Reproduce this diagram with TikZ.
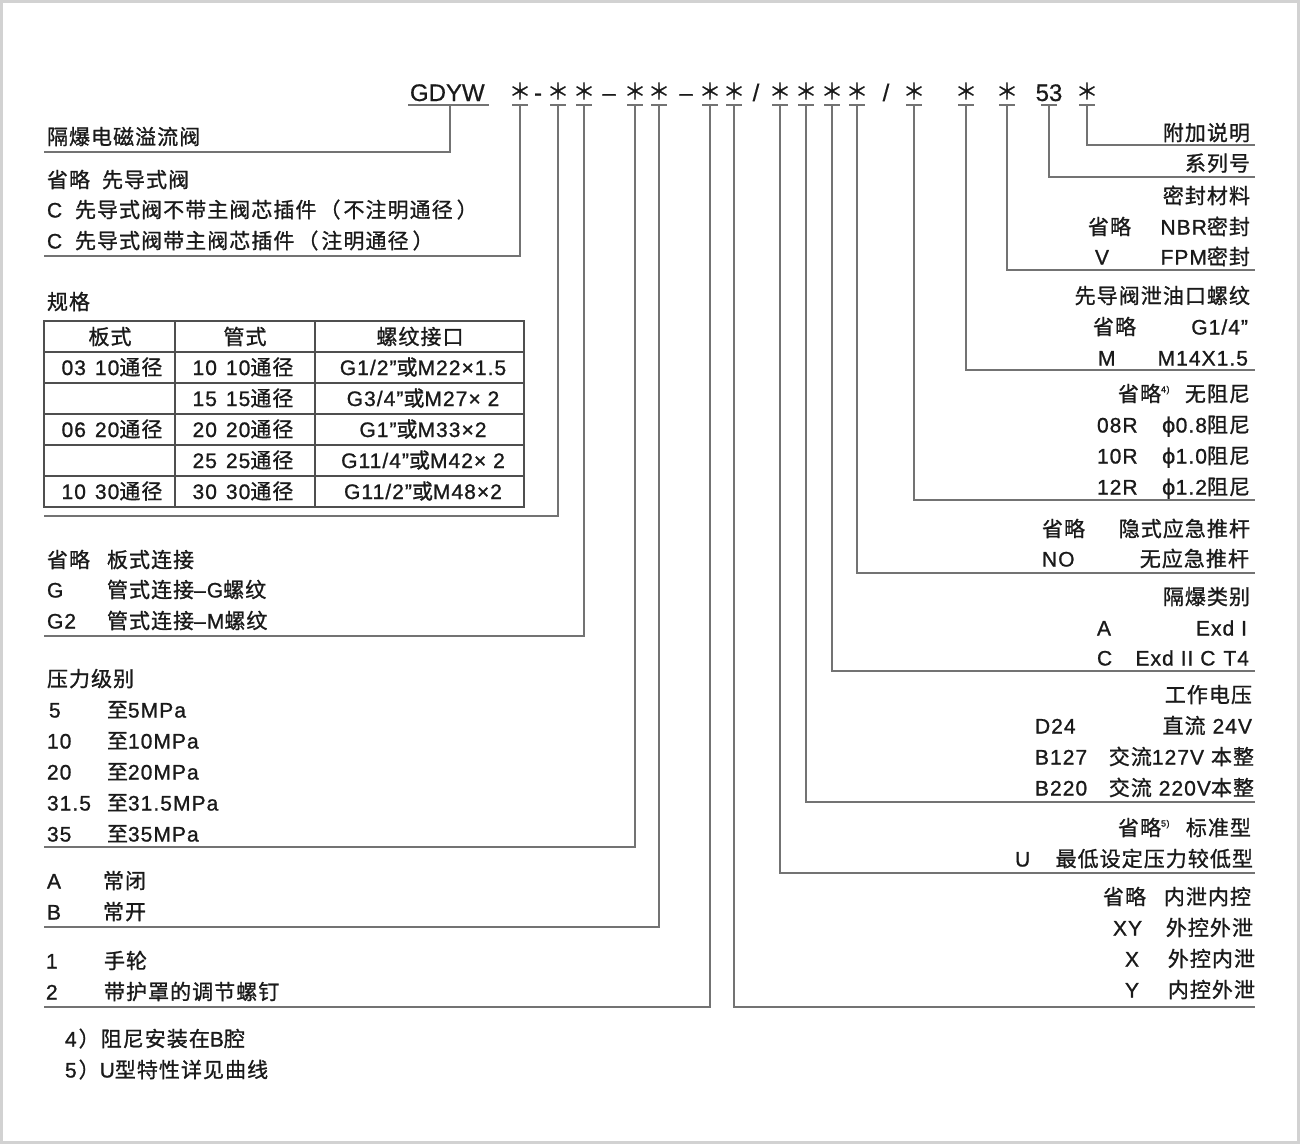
\documentclass[tikz,border=0pt]{standalone}
\usepackage{fontspec}
\setmainfont{Noto Sans CJK SC}[LetterSpace=5.0,FakeBold=1.0]
\newfontfamily\latf{Liberation Sans}[LetterSpace=5.0,FakeBold=1.0]
\newfontfamily\hdrf{Liberation Sans}[FakeBold=0.6]
\newfontfamily\phif{DejaVu Sans}[FakeBold=0.6]
\newcommand\en[1]{{\latf #1}}
\newcommand\phis{{\phif ϕ}}
\newcommand\supnote[1]{\raisebox{9pt}{\fontsize{9}{9}\selectfont\latf #1}}
\definecolor{txt}{HTML}{1A1A1A}
\definecolor{lncol}{HTML}{737373}
\definecolor{tblcol}{HTML}{4F4F4F}
\definecolor{framecol}{HTML}{D2D2D2}
\begin{document}
\begin{tikzpicture}[x=1pt,y=-1pt,
  every node/.style={inner sep=0pt, outer sep=0pt, text=txt, font=\fontsize{21}{24}\selectfont},
  lt/.style={anchor=base west},
  rt/.style={anchor=base east},
  ctr/.style={anchor=base},
  code/.style={anchor=base west, font=\fontsize{21}{24}\selectfont\latf},
  rcode/.style={anchor=base east, font=\fontsize{21}{24}\selectfont\latf},
  hdr/.style={anchor=base, font=\fontsize{24}{28}\selectfont\hdrf},
  starmark/.style={anchor=center, font=\fontsize{22}{24}\selectfont},
  ln/.style={draw=lncol, line width=1.1pt},
  tbl/.style={draw=tblcol, line width=1.1pt},
]
\useasboundingbox (0,0) rectangle (1300,1144);
\fill[white] (0,0) rectangle (1300,1144);
\draw[draw=framecol, line width=3pt] (1.5,1.5) rectangle (1298.5,1142.5);

% ---------- header ----------
\node[hdr, anchor=base west] (gdyw) at (410,101) {GDYW};
\foreach \n/\x in {1/520,2/558,3/584,4/635,5/659,6/710,7/734,8/780,9/806,10/832,11/857,12/914,13/966,14/1007,16/1087}{
  \node[starmark] (s\n) at (\x,91) {＊};
}
\node[hdr] (s15) at (1049,101) {53};
\node[hdr] (d1) at (538,101) {-};
\node[hdr] (d2) at (609,101) {–};
\node[hdr] (d3) at (686,101) {–};
\node[hdr] (sl1) at (756,101) {/};
\node[hdr] (sl2) at (886,101) {/};

% underlines
\draw[ln] (408,105) -- (489,105);
\foreach \x in {520,558,584,635,659,710,734,780,806,832,857,914,966,1007,1049,1087}{
  \draw[ln] (\x-8,105) -- (\x+8,105);
}

% connectors
\foreach \n/\x/\y/\e in {0/450/152/44,1/520/256/44,2/558/516/44,3/584/636/44,4/635/847/44,5/659/927/44,6/710/1007/44,
  7/734/1007/1255,8/780/873/1255,9/806/802/1255,10/832/671/1255,11/857/573/1255,12/914/500/1255,13/966/370/1255,14/1007/270/1255,15/1049/177/1255,16/1087/145/1255}{
  \coordinate (u\n) at (\x,105);
  \coordinate (k\n) at (\x,\y);
  \coordinate (t\n) at (\e,\y);
  \draw[ln] (u\n) -- (k\n) -- (t\n);
}

% ---------- left column ----------
\node[lt] (a0) at (47,144.5) {隔爆电磁溢流阀};
\node[lt] (a1) at (47,187.5) {省略};
\node[lt] (a1b) at (102,187.5) {先导式阀};
\node[code] (a2) at (47,217.5) {C};
\node[lt] (a2b) at (75,217.5) {先导式阀不带主阀芯插件\hspace{3pt}（\hspace{3pt}不注明通径\hspace{4pt}）};
\node[code] (a3) at (47,248.5) {C};
\node[lt] (a3b) at (75,248.5) {先导式阀带主阀芯插件\hspace{3pt}（\hspace{3pt}注明通径\hspace{4pt}）};

\node[lt] (a4) at (47,309.5) {规格};
% table
\draw[tbl] (44,321) rectangle (524,507);
\foreach \y in {352,383,414,445,476}{ \draw[tbl] (44,\y) -- (524,\y); }
\draw[tbl] (175,321) -- (175,507);
\draw[tbl] (315,321) -- (315,507);
\node[ctr] (h1) at (110,344.5) {板式};
\node[ctr] (h2) at (245,344.5) {管式};
\node[ctr] (h3) at (420,344.5) {螺纹接口};
\node[ctr] (r1a) at (112,375) {\en{03\hspace{9pt}10}通径};
\node[ctr] (r1b) at (243,375) {\en{10\hspace{9pt}10}通径};
\node[ctr] (r1c) at (423,375) {\en{G1/2”}或\en{M22×1.5}};
\node[ctr] (r2b) at (243,406) {\en{15\hspace{9pt}15}通径};
\node[ctr] (r2c) at (423,406) {\en{G3/4”}或\en{M27× 2}};
\node[ctr] (r3a) at (112,437) {\en{06\hspace{9pt}20}通径};
\node[ctr] (r3b) at (243,437) {\en{20\hspace{9pt}20}通径};
\node[ctr] (r3c) at (423,437) {\en{G1”}或\en{M33×2}};
\node[ctr] (r4b) at (243,468) {\en{25\hspace{9pt}25}通径};
\node[ctr] (r4c) at (423,468) {\en{G11/4”}或\en{M42× 2}};
\node[ctr] (r5a) at (112,499) {\en{10\hspace{9pt}30}通径};
\node[ctr] (r5b) at (243,499) {\en{30\hspace{9pt}30}通径};
\node[ctr] (r5c) at (423,499) {\en{G11/2”}或\en{M48×2}};

\node[lt] (c1) at (47,567.5) {省略};
\node[lt] (c1b) at (107,567.5) {板式连接};
\node[code] (c2) at (47,597.5) {G};
\node[lt] (c2b) at (107,597.5) {管式连接\en{–G}螺纹};
\node[code] (c3) at (47,628.5) {G2};
\node[lt] (c3b) at (107,628.5) {管式连接\en{–M}螺纹};

\node[lt] (p0) at (47,686.5) {压力级别};
\node[code] (p1) at (49,717.5) {5};
\node[lt] (p1b) at (107,717.5) {至\en{5MPa}};
\node[code] (p2) at (47,748.5) {10};
\node[lt] (p2b) at (107,748.5) {至\en{10MPa}};
\node[code] (p3) at (47,779.5) {20};
\node[lt] (p3b) at (107,779.5) {至\en{20MPa}};
\node[code] (p4) at (47,810.5) {31.5};
\node[lt] (p4b) at (107,810.5) {至\en{31.5MPa}};
\node[code] (p5) at (47,841.5) {35};
\node[lt] (p5b) at (107,841.5) {至\en{35MPa}};

\node[code] (n1) at (47,888.5) {A};
\node[lt] (n1b) at (103,888.5) {常闭};
\node[code] (n2) at (47,919.5) {B};
\node[lt] (n2b) at (103,919.5) {常开};

\node[code] (m1) at (46,968.5) {1};
\node[lt] (m1b) at (104,968.5) {手轮};
\node[code] (m2) at (46,999.5) {2};
\node[lt] (m2b) at (104,999.5) {带护罩的调节螺钉};

\node[lt] (f1) at (65,1046.5) {\en{4}\hspace{2pt}）阻尼安装在\en{B}腔};
\node[lt] (f2) at (65,1077.5) {\en{5}\hspace{2pt}）\en{U}型特性详见曲线};

% ---------- right column ----------
\node[rt] (b1) at (1250,140.5) {附加说明};
\node[rt] (b2) at (1250,171) {系列号};
\node[rt] (b3) at (1250,203.5) {密封材料};
\node[lt] (b4) at (1088,234.5) {省略};
\node[rt] (b4b) at (1250,234.5) {\en{NBR}密封};
\node[code] (b5) at (1095,264.5) {V};
\node[rt] (b5b) at (1250,264.5) {\en{FPM}密封};

\node[rt] (e1) at (1250,303.5) {先导阀泄油口螺纹};
\node[lt] (e2) at (1093,334.5) {省略};
\node[rcode] (e2b) at (1248,334.5) {G1/4”};
\node[code] (e3) at (1098,365.5) {M};
\node[rcode] (e3b) at (1248,365.5) {M14X1.5};

\node[lt] (g1) at (1118,401.5) {省略\supnote{4)}};
\node[rt] (g1b) at (1250,401.5) {无阻尼};
\node[code] (g2) at (1097,432.5) {08R};
\node[rt] (g2b) at (1250,432.5) {\phis\en{0.8}阻尼};
\node[code] (g3) at (1097,463.5) {10R};
\node[rt] (g3b) at (1250,463.5) {\phis\en{1.0}阻尼};
\node[code] (g4) at (1097,494.5) {12R};
\node[rt] (g4b) at (1250,494.5) {\phis\en{1.2}阻尼};

\node[lt] (i1) at (1042,536.5) {省略};
\node[rt] (i1b) at (1250,536.5) {隐式应急推杆};
\node[code] (i2) at (1042,566.5) {NO};
\node[rt] (i2b) at (1249,566.5) {无应急推杆};

\node[rt] (j1) at (1250,604.5) {隔爆类别};
\node[code] (j2) at (1097,635.5) {A};
\node[rcode] (j2b) at (1247,635.5) {Exd I};
\node[code] (j3) at (1097,665.5) {C};
\node[rcode] (j3b) at (1249,665.5) {Exd II C\hspace{8pt}T4};

\node[rt] (v1) at (1252,702.5) {工作电压};
\node[code] (v2) at (1035,733.5) {D24};
\node[rt] (v2b) at (1252,733.5) {直流\en{ 24V}};
\node[code] (v3) at (1035,764.5) {B127};
\node[rt] (v3b) at (1254,764.5) {交流\en{127V }本整};
\node[code] (v4) at (1035,795.5) {B220};
\node[rt] (v4b) at (1254,795.5) {交流\en{ 220V}本整};

\node[lt] (w1) at (1118,835.5) {省略\supnote{5)}};
\node[rt] (w1b) at (1251,835.5) {标准型};
\node[code] (w2) at (1015,866.5) {U};
\node[rt] (w2b) at (1253,866.5) {最低设定压力较低型};

\node[lt] (x1) at (1103,904.5) {省略};
\node[rt] (x1b) at (1251,904.5) {内泄内控};
\node[code] (x2) at (1113,935.5) {XY};
\node[rt] (x2b) at (1253,935.5) {外控外泄};
\node[code] (x3) at (1125,966.5) {X};
\node[rt] (x3b) at (1255,966.5) {外控内泄};
\node[code] (x4) at (1125,997.5) {Y};
\node[rt] (x4b) at (1255,997.5) {内控外泄};
\end{tikzpicture}
\end{document}
